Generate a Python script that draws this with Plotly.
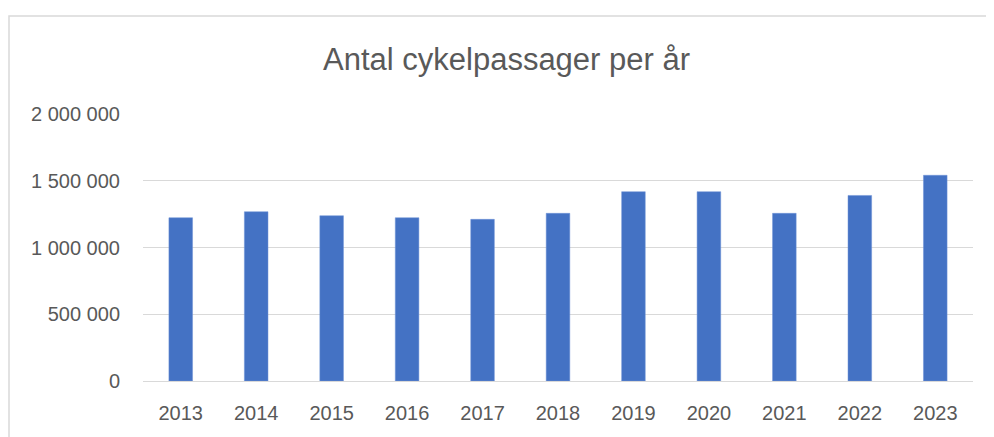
import plotly.graph_objects as go

years = ["2013", "2014", "2015", "2016", "2017", "2018", "2019", "2020", "2021", "2022", "2023"]
passages = [1223000, 1268000, 1238000, 1223000, 1211000, 1256000, 1418000, 1418000, 1256000, 1390000, 1541000]
ytick_vals = [0, 500000, 1000000, 1500000, 2000000]
ytick_text = ["0", "500 000", "1 000 000", "1 500 000", "2 000 000"]

# page body has an 8px margin; figure placed at (8, 8)
OFF = 8
W, H = 994 - OFF, 437 - OFF
L, R, T, B = 143 - OFF, 21, 114 - OFF, 56
PW, PH = W - L - R, H - T - B
FONT = "Liberation Sans"
TXT = "#595959"
GRID = "#d9d9d9"

fig = go.Figure(
    go.Bar(
        x=years,
        y=passages,
        marker=dict(color="#4472C4", line=dict(color="#6f93d6", width=0.5)),
        width=0.313,
    )
)

fig.update_layout(
    width=W,
    height=H,
    paper_bgcolor="white",
    plot_bgcolor="white",
    margin=dict(l=L, r=R, t=T, b=B),
    showlegend=False,
    font=dict(family=FONT, color=TXT, size=20),
    annotations=[
        dict(
            text="Antal cykelpassager per år",
            xref="paper", yref="paper",
            x=(506 - OFF - L) / PW, y=1 + (T - (60 - OFF)) / PH,
            xanchor="center", yanchor="middle",
            showarrow=False,
            font=dict(family=FONT, size=31, color=TXT),
        )
    ],
    shapes=[
        dict(
            type="rect",
            xref="paper", yref="paper",
            x0=-(L - (9 - OFF)) / PW, x1=1.2,
            y0=-0.5, y1=1 + (T - (16 - OFF)) / PH,
            line=dict(color=GRID, width=1.5),
            fillcolor="rgba(0,0,0,0)",
            layer="below",
        )
    ],
)

fig.update_xaxes(
    type="category",
    showgrid=False,
    showline=True,
    linecolor=GRID,
    linewidth=1,
    ticks="",
    ticklabelstandoff=14,
    tickfont=dict(family=FONT, size=20, color=TXT),
)
fig.update_yaxes(
    range=[0, 2000000],
    tickvals=ytick_vals,
    ticktext=ytick_text,
    showgrid=True,
    gridcolor=GRID,
    gridwidth=1,
    zeroline=False,
    showline=False,
    ticks="",
    ticklabelstandoff=22,
    tickfont=dict(family=FONT, size=20, color=TXT),
)

fig.write_html("out.html")
